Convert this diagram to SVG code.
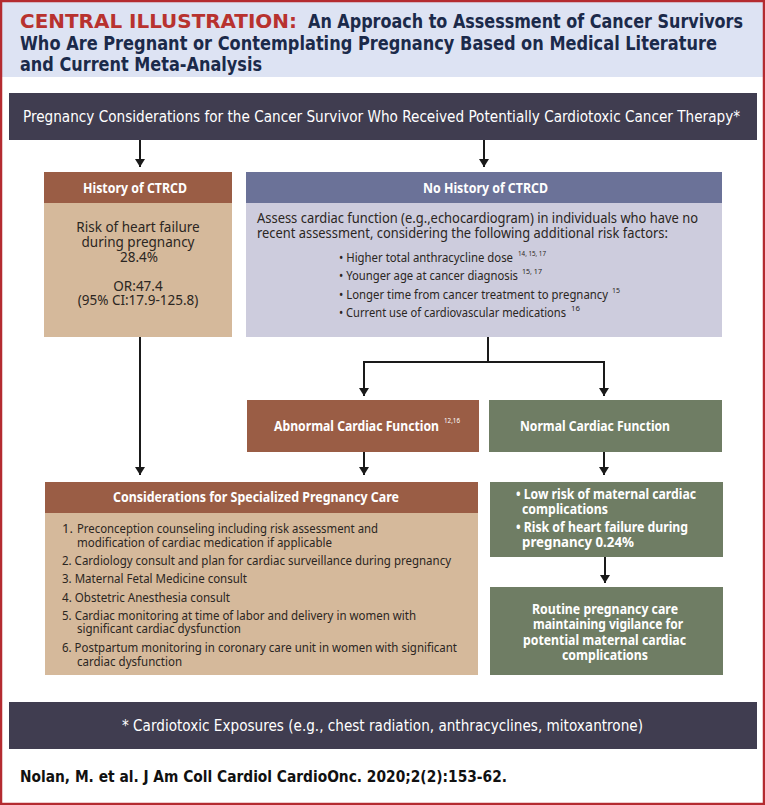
<svg xmlns="http://www.w3.org/2000/svg" width="765" height="805" viewBox="0 0 765 805">
<defs>
<style>
.cond{font-family:'DejaVu Sans Condensed','Roboto','Liberation Sans',sans-serif;font-stretch:condensed}
.body{font-family:'Noto Sans','Open Sans','Liberation Sans',sans-serif}
.title{font-size:20px;font-weight:bold;fill:#1b2a4a}
.red{fill:#b8322f}
.wh{fill:#ffffff}
.dk{fill:#2b2622}
.hdr{font-size:13.5px;font-weight:bold;fill:#ffffff}
.sup{font-size:7.5px}
.conn{stroke:#1a1a1a;stroke-width:2;fill:none}
</style>
<marker id="ah" viewBox="0 0 8 10" refX="8" refY="5" markerWidth="8" markerHeight="10" markerUnits="userSpaceOnUse" orient="auto">
<path d="M0,0 L8,5 L0,10 z" fill="#1a1a1a"/>
</marker>
</defs>
<rect x="0" y="0" width="765" height="805" fill="#ffffff"/>
<rect x="0" y="0" width="765" height="77" fill="#dde3f3"/>
<rect x="1" y="1" width="763" height="803" fill="none" stroke="#b42b30" stroke-width="2.5"/>

<g id="title">
<text class="cond title red" x="20" y="28" textLength="277" lengthAdjust="spacingAndGlyphs">CENTRAL ILLUSTRATION:</text>
<text class="cond title" x="308" y="28" textLength="435" lengthAdjust="spacingAndGlyphs">An Approach to Assessment of Cancer Survivors</text>
<text class="cond title" x="20" y="50" textLength="697" lengthAdjust="spacingAndGlyphs">Who Are Pregnant or Contemplating Pregnancy Based on Medical Literature</text>
<text class="cond title" x="20" y="71" textLength="242" lengthAdjust="spacingAndGlyphs">and Current Meta-Analysis</text>
</g>

<g id="top">
<rect x="9" y="93" width="748" height="47" fill="#403d50"/>
<text class="cond wh" x="23" y="122" font-size="15.5" textLength="717" lengthAdjust="spacingAndGlyphs">Pregnancy Considerations for the Cancer Survivor Who Received Potentially Cardiotoxic Cancer Therapy*</text>
</g>

<g id="history">
<rect x="44" y="172" width="188" height="31" fill="#9a5d45"/>
<rect x="44" y="203" width="188" height="134" fill="#d5b99b"/>
<text class="body hdr" x="83" y="193" textLength="104" lengthAdjust="spacingAndGlyphs">History of CTRCD</text>
<g class="body dk" font-size="13.5" text-anchor="middle">
<text x="138" y="232">Risk of heart failure</text>
<text x="138" y="247">during pregnancy</text>
<text x="139" y="262">28.4%</text>
<text x="138" y="291">OR:47.4</text>
<text x="138" y="305">(95% CI:17.9-125.8)</text>
</g>
</g>

<g id="nohistory">
<rect x="246" y="172" width="476" height="31" fill="#6b7298"/>
<rect x="246" y="203" width="476" height="134" fill="#cdccdd"/>
<text class="body hdr" x="423" y="193" textLength="125" lengthAdjust="spacingAndGlyphs">No History of CTRCD</text>
<g class="body dk" font-size="14.5">
<text x="257" y="223" textLength="441" lengthAdjust="spacingAndGlyphs">Assess cardiac function (e.g.,echocardiogram) in individuals who have no</text>
<text x="257" y="238" textLength="411" lengthAdjust="spacingAndGlyphs">recent assessment, considering the following additional risk factors:</text>
</g>
<g class="body dk" font-size="12">
<text x="339" y="262" textLength="174" lengthAdjust="spacingAndGlyphs">• Higher total anthracycline dose</text>
<text class="sup" x="518" y="256" textLength="28" lengthAdjust="spacingAndGlyphs">14, 15, 17</text>
<text x="339" y="280" textLength="179" lengthAdjust="spacingAndGlyphs">• Younger age at cancer diagnosis</text>
<text class="sup" x="522" y="274" textLength="20" lengthAdjust="spacingAndGlyphs">15, 17</text>
<text x="339" y="299" textLength="269" lengthAdjust="spacingAndGlyphs">• Longer time from cancer treatment to pregnancy</text>
<text class="sup" x="612" y="293" textLength="8" lengthAdjust="spacingAndGlyphs">15</text>
<text x="339" y="317" textLength="227" lengthAdjust="spacingAndGlyphs">• Current use of cardiovascular medications</text>
<text class="sup" x="571" y="311" textLength="9" lengthAdjust="spacingAndGlyphs">16</text>
</g>
</g>

<g id="abnormal">
<rect x="247" y="400" width="232" height="52" fill="#9a5d45"/>
<text class="body wh" font-size="14" font-weight="bold" x="274" y="431" textLength="165" lengthAdjust="spacingAndGlyphs">Abnormal Cardiac Function</text>
<text class="body wh sup" x="444" y="423" textLength="16" lengthAdjust="spacingAndGlyphs">12,16</text>
</g>

<g id="normal">
<rect x="489" y="400" width="233" height="52" fill="#6f7d64"/>
<text class="body wh" font-size="14" font-weight="bold" x="520" y="431" textLength="150" lengthAdjust="spacingAndGlyphs">Normal Cardiac Function</text>
</g>

<g id="considerations">
<rect x="45" y="482" width="433" height="31" fill="#9a5d45"/>
<rect x="45" y="513" width="433" height="162" fill="#d5b99b"/>
<text class="body hdr" x="113" y="502" textLength="286" lengthAdjust="spacingAndGlyphs">Considerations for Specialized Pregnancy Care</text>
<g class="body dk" font-size="13">
<text x="62" y="533">1.</text>
<text x="77" y="533" textLength="301" lengthAdjust="spacingAndGlyphs">Preconception counseling including risk assessment and</text>
<text x="77" y="547" textLength="255" lengthAdjust="spacingAndGlyphs">modification of cardiac medication if applicable</text>
<text x="62" y="565" textLength="389" lengthAdjust="spacingAndGlyphs">2. Cardiology consult and plan for cardiac surveillance during pregnancy</text>
<text x="62" y="583" textLength="185" lengthAdjust="spacingAndGlyphs">3. Maternal Fetal Medicine consult</text>
<text x="62" y="602" textLength="168" lengthAdjust="spacingAndGlyphs">4. Obstetric Anesthesia consult</text>
<text x="62" y="620" textLength="354" lengthAdjust="spacingAndGlyphs">5. Cardiac monitoring at time of labor and delivery in women with</text>
<text x="77" y="633" textLength="164" lengthAdjust="spacingAndGlyphs">significant cardiac dysfunction</text>
<text x="62" y="652" textLength="395" lengthAdjust="spacingAndGlyphs">6. Postpartum monitoring in coronary care unit in women with significant</text>
<text x="77" y="666" textLength="105" lengthAdjust="spacingAndGlyphs">cardiac dysfunction</text>
</g>
</g>

<g id="lowrisk">
<rect x="490" y="482" width="233" height="75" fill="#6f7d64"/>
<g class="body wh" font-size="14" font-weight="bold">
<text x="516" y="499" textLength="180" lengthAdjust="spacingAndGlyphs">• Low risk of maternal cardiac</text>
<text x="522" y="514" textLength="86" lengthAdjust="spacingAndGlyphs">complications</text>
<text x="516" y="532" textLength="172" lengthAdjust="spacingAndGlyphs">• Risk of heart failure during</text>
<text x="522" y="547" textLength="112" lengthAdjust="spacingAndGlyphs">pregnancy 0.24%</text>
</g>
</g>

<g id="routine">
<rect x="490" y="587" width="233" height="88" fill="#6f7d64"/>
<g class="body wh" font-size="14" font-weight="bold">
<text x="532" y="614" textLength="146" lengthAdjust="spacingAndGlyphs">Routine pregnancy care</text>
<text x="533" y="629" textLength="150" lengthAdjust="spacingAndGlyphs">maintaining vigilance for</text>
<text x="523" y="645" textLength="163" lengthAdjust="spacingAndGlyphs">potential maternal cardiac</text>
<text x="562" y="660" textLength="86" lengthAdjust="spacingAndGlyphs">complications</text>
</g>
</g>

<g id="footer">
<rect x="9" y="702" width="748" height="47" fill="#403d50"/>
<text class="cond wh" x="122" y="731" font-size="15.5" textLength="521" lengthAdjust="spacingAndGlyphs">* Cardiotoxic Exposures (e.g., chest radiation, anthracyclines, mitoxantrone)</text>
</g>

<g id="citation">
<text class="cond" x="20" y="782" font-size="16.5" font-weight="bold" fill="#111111" textLength="487" lengthAdjust="spacingAndGlyphs">Nolan, M. et al. J Am Coll Cardiol CardioOnc. 2020;2(2):153-62.</text>
</g>

<g id="connectors">
<line class="conn" x1="140" y1="140" x2="140" y2="167" marker-end="url(#ah)"/>
<line class="conn" x1="484" y1="140" x2="484" y2="167" marker-end="url(#ah)"/>
<line class="conn" x1="140" y1="337" x2="140" y2="475" marker-end="url(#ah)"/>
<polyline class="conn" points="488,337 488,362"/>
<polyline class="conn" points="364,396 364,362 604,362 604,396" marker-end="url(#ah)"/>
<line class="conn" x1="364" y1="380" x2="364" y2="396" marker-end="url(#ah)"/>
<line class="conn" x1="364" y1="452" x2="364" y2="475" marker-end="url(#ah)"/>
<line class="conn" x1="604" y1="452" x2="604" y2="475" marker-end="url(#ah)"/>
<line class="conn" x1="605" y1="557" x2="605" y2="583" marker-end="url(#ah)"/>
</g>
</svg>
